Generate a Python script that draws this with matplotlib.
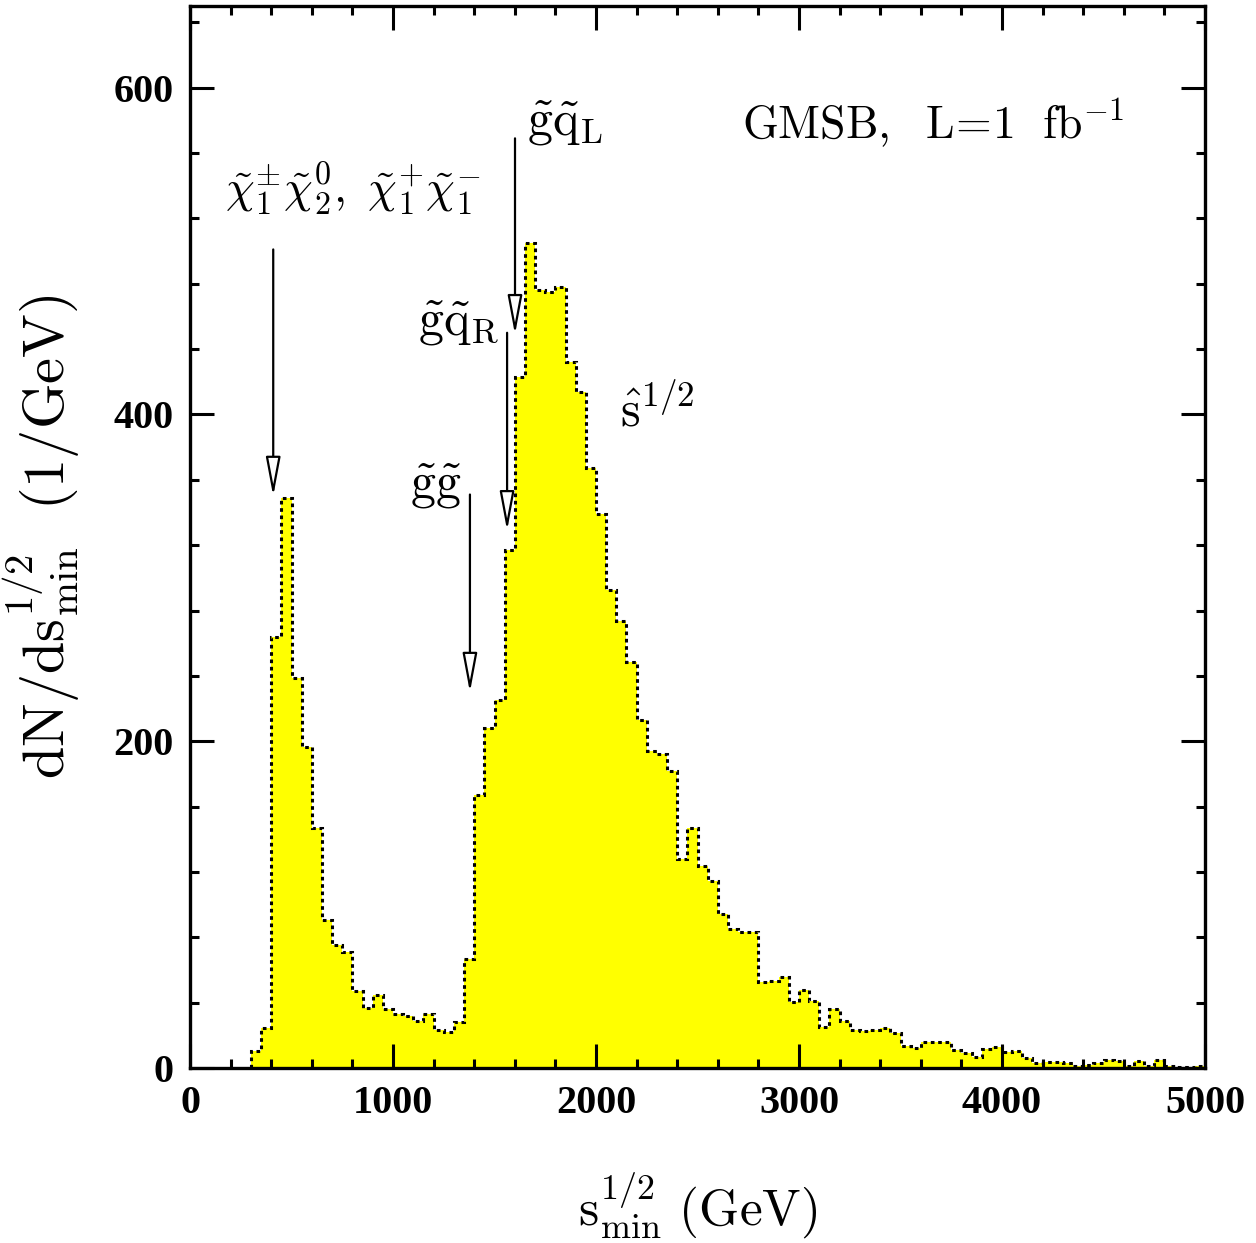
import numpy as np
import matplotlib
matplotlib.use("Agg")
import matplotlib.pyplot as plt
from matplotlib.ticker import MultipleLocator

plt.rcParams['mathtext.fontset'] = 'cm'

# ---- data ----
bin_start = 300      # GeV
bin_width = 50       # GeV
counts = [
    10.6, 24.2, 264, 349, 238.7, 196.4, 146.7, 90.4, 75, 71,
    47.4, 36.8, 44.6, 36.4, 33, 31.7, 29, 33, 23, 22,
    28.2, 67, 167, 208, 225.5, 317, 423, 505, 476, 475,
    478, 432, 413.5, 367.4, 339, 292.4, 273.5, 248.7, 213, 194,
    192.3, 181.7, 127.7, 147, 123.5, 114.7, 94.5, 85.3, 83.3, 83.3,
    52.5, 53.5, 55.5, 40.2, 47.6, 40.8, 25.1, 36.3, 28.6, 23.1,
    22.4, 23.5, 24.5, 21.4, 13.7, 12.5, 16.1, 16.1, 16.1, 11,
    9, 6.5, 11.6, 13.1, 9.6, 10.2, 6.1, 3.3, 3.9, 3.9,
    2.9, 1.2, 1.8, 3.1, 4.9, 4.1, 1.4, 4.1, 1.4, 4.9,
    1.4, 0.8, 0.8, 1.4,
]
edges = bin_start + bin_width * np.arange(len(counts) + 1)

# arrows: (x, y_start, y_end) in data units
arrow_x = [410, 1601, 1562, 1379]
arrow_y0 = [501, 569, 450, 351]
arrow_y1 = [350, 449, 329, 230]

labels = [r'$\tilde{\chi}^{\pm}_{1}\tilde{\chi}^{0}_{2},\ \tilde{\chi}^{+}_{1}\tilde{\chi}^{-}_{1}$',
          r'$\tilde{\mathrm{g}}\tilde{\mathrm{q}}_{\mathrm{L}}$',
          r'$\tilde{\mathrm{g}}\tilde{\mathrm{q}}_{\mathrm{R}}$',
          r'$\tilde{\mathrm{g}}\tilde{\mathrm{g}}$',
          r'$\hat{\mathrm{s}}^{1/2}$',
          r'$\mathrm{GMSB,\ \ L\!=\!1\ \ fb}^{-1}$']
label_x = [172, 1660, 1123, 1084, 2118, 2719]
label_y = [538, 578, 456, 356, 402, 578]
label_size = [33, 36, 36, 36, 36, 33]

# ---- figure ----
fig = plt.figure(figsize=(12.56, 12.43), dpi=100)
ax = fig.add_axes([190/1256, 1 - 1068/1243, (1205-190)/1256, (1068-6)/1243])

ax.stairs(counts, edges, fill=True, color='#ffff00', baseline=0, zorder=1)
ax.stairs(counts, edges, color='black', linestyle=(0, (1.2, 1.2)), linewidth=2.2,
          baseline=0, zorder=2)

for x, y0, y1 in zip(arrow_x, arrow_y0, arrow_y1):
    ax.annotate('', xy=(x, y1), xytext=(x, y0),
                arrowprops=dict(arrowstyle='-|>,head_length=2.4,head_width=0.45',
                                fc='white', ec='black', lw=1.6,
                                shrinkA=0, shrinkB=0), zorder=3)

for t, x, y, s in zip(labels, label_x, label_y, label_size):
    ax.text(x, y, t, fontsize=s, ha='left', va='center', zorder=4)

ax.set_xlim(0, 5000)
ax.set_ylim(0, 650)

ax.xaxis.set_major_locator(MultipleLocator(1000))
ax.xaxis.set_minor_locator(MultipleLocator(200))
ax.yaxis.set_major_locator(MultipleLocator(200))
ax.yaxis.set_minor_locator(MultipleLocator(40))
ax.tick_params(which='both', direction='in', top=True, right=True, width=2.2)
ax.tick_params(which='major', length=17, pad=12)
ax.tick_params(which='minor', length=6.5)
for s in ax.spines.values():
    s.set_linewidth(2.4)

for lab in ax.get_xticklabels() + ax.get_yticklabels():
    lab.set_fontfamily('Liberation Serif')
    lab.set_fontweight('bold')
    lab.set_fontsize(29)

ax.set_xlabel(r'$\mathrm{s}^{1/2}_{\mathrm{min}}\ \mathrm{(GeV)}$', fontsize=37)
ax.xaxis.set_label_coords(0.5, -0.097)
ax.set_ylabel(r'$\mathrm{dN/ds}^{1/2}_{\mathrm{min}}\ \ \mathrm{(1/GeV)}$', fontsize=42)
ax.yaxis.set_label_coords(-0.106, 0.5)

fig.savefig('out.png', dpi=100)
